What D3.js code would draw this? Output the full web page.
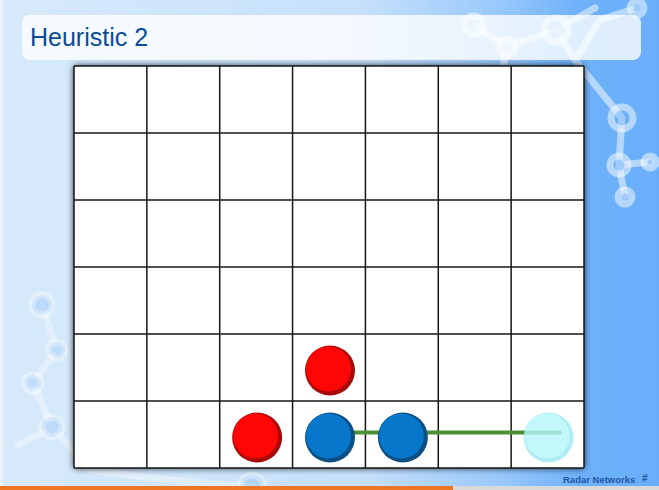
<!DOCTYPE html>
<html>
<head>
  <meta charset="utf-8">
  <script src="https://d3js.org/d3.v7.min.js"></script>
  <style>
    html, body { margin: 0; padding: 0; overflow: hidden; }
    body { background: #d6e9fb; }
    text { font-family: "Liberation Sans", Arial, sans-serif; }
  </style>
</head>
<body>
<script>
  // board
  var columns = [1, 2, 3, 4, 5, 6, 7];
  var rows = [1, 2, 3, 4, 5, 6];           // counted from the bottom

  // pieces on the board
  var redCols = [3, 4],  redRows = [1, 2];
  var blueCols = [4, 5], blueRows = [1, 1];
  var hintCols = [7],    hintRows = [1];   // faded candidate move

  // the heuristic line
  var lineCols = [4, 7], lineRow = 1;

  var title = "Heuristic 2";
  var footer = "Radar Networks";

  var width = 659, height = 490;

  var svg = d3.select("body").append("svg")
      .attr("width", width)
      .attr("height", height);

  var defs = svg.append("defs");

  var bg = defs.append("linearGradient").attr("id", "bg")
      .attr("x1", 0).attr("x2", 1).attr("y1", 0).attr("y2", 0);
  bg.append("stop").attr("offset", "0").attr("stop-color", "#d7eafb");
  bg.append("stop").attr("offset", "0.55").attr("stop-color", "#c6e0fb");
  bg.append("stop").attr("offset", "0.76").attr("stop-color", "#98c8fb");
  bg.append("stop").attr("offset", "0.88").attr("stop-color", "#6eb1fa");
  bg.append("stop").attr("offset", "1").attr("stop-color", "#6aaefa");

  var shadow = defs.append("filter").attr("id", "shadow")
      .attr("x", "-5%").attr("y", "-5%").attr("width", "110%").attr("height", "110%");
  shadow.append("feGaussianBlur").attr("in", "SourceAlpha").attr("stdDeviation", 3.5);
  shadow.append("feComponentTransfer").append("feFuncA").attr("type", "linear").attr("slope", 0.9);
  var merge = shadow.append("feMerge");
  merge.append("feMergeNode");
  merge.append("feMergeNode").attr("in", "SourceGraphic");

  /* background */
  svg.append("rect").attr("width", width).attr("height", height).attr("fill", "url(#bg)");
  svg.append("rect").attr("width", 3).attr("height", height).attr("fill", "#eef3f8");

  // molecule decoration
  var deco = svg.append("g")
      .attr("fill", "none")
      .attr("stroke", "#ffffff")
      .attr("stroke-linecap", "round")
      .attr("stroke-width", 7);
  deco.append("path").attr("stroke-opacity", 0.5).attr("d",
      "M474,25 L507,47 L556,30 L595,8 M507,47 L500,85 M556,30 L575,60 L622,118 L619,165 L650,162 M619,165 L625,197 M575,60 L600,20 L637,8");
  deco.append("path").attr("stroke-opacity", 0.35).attr("d",
      "M42,305 L57,350 L33,383 L52,427 L18,445 M52,427 L90,470 L150,478 L252,487");
  var nodes = [[474,25,9],[507,47,8],[556,30,12],[622,118,11],[619,165,9],[650,162,6],[625,197,7],[637,8,7],
               [42,305,10],[57,350,8],[33,383,8],[52,427,10],[252,487,12]];
  deco.selectAll("circle").data(nodes).join("circle")
      .attr("cx", function(d) { return d[0]; })
      .attr("cy", function(d) { return d[1]; })
      .attr("r", function(d) { return d[2]; })
      .attr("stroke-opacity", function(d) { return d[0] < 300 ? 0.35 : 0.5; })
      .attr("fill", "#6caffa").attr("fill-opacity", 0.3);

  /* title box */
  svg.append("rect")
      .attr("x", 22).attr("y", 15).attr("width", 619).attr("height", 45)
      .attr("rx", 8)
      .attr("fill", "#ffffff").attr("fill-opacity", 0.78);
  svg.append("text")
      .attr("x", 30).attr("y", 46)
      .attr("font-size", 25)
      .attr("fill", "#0b4b98")
      .text(title);

  /* board */
  var x = d3.scaleBand().domain(columns).range([74, 584]);
  var y = d3.scaleBand().domain(rows.slice().reverse()).range([66, 468]);
  var bw = x.bandwidth(), bh = y.bandwidth();

  var board = svg.append("g");
  board.append("rect")
      .attr("x", 74).attr("y", 66).attr("width", 510).attr("height", 402)
      .attr("fill", "#ffffff")
      .attr("filter", "url(#shadow)");

  board.selectAll("line.v").data(columns.concat([8])).join("line")
      .attr("class", "v")
      .attr("x1", function(d) { return d <= 7 ? x(d) : 584; })
      .attr("x2", function(d) { return d <= 7 ? x(d) : 584; })
      .attr("y1", 66).attr("y2", 468)
      .attr("stroke", "#151515").attr("stroke-width", 1.5);
  board.selectAll("line.h").data(rows.concat([0])).join("line")
      .attr("class", "h")
      .attr("y1", function(d) { return d >= 1 ? y(d) : 468; })
      .attr("y2", function(d) { return d >= 1 ? y(d) : 468; })
      .attr("x1", 74).attr("x2", 584)
      .attr("stroke", "#151515").attr("stroke-width", 1.5);

  function cx(c) { return x(c) + bw / 2 + 1; }
  function cy(r) { return y(r) + bh / 2 + 3; }

  // heuristic line
  board.append("line")
      .attr("x1", cx(lineCols[0])).attr("x2", cx(lineCols[1]) + 13)
      .attr("y1", cy(lineRow) - 5).attr("y2", cy(lineRow) - 5)
      .attr("stroke", "#4c8f36").attr("stroke-width", 4);

  function pieces(cols, rws, rim, face, opacity) {
    var data = cols.map(function(c, i) { return {c: c, r: rws[i]}; });
    var g = board.append("g").attr("opacity", opacity);
    g.selectAll("circle.rim").data(data).join("circle")
        .attr("class", "rim")
        .attr("cx", function(d) { return cx(d.c); })
        .attr("cy", function(d) { return cy(d.r); })
        .attr("r", 25)
        .attr("fill", rim);
    g.selectAll("circle.face").data(data).join("circle")
        .attr("class", "face")
        .attr("cx", function(d) { return cx(d.c) - 1.5; })
        .attr("cy", function(d) { return cy(d.r) - 1.5; })
        .attr("r", 22.5)
        .attr("fill", face);
  }

  pieces(redCols, redRows, "#a80a0a", "#ff0606", 1);
  pieces(blueCols, blueRows, "#0c4f82", "#0777cb", 1);
  pieces(hintCols, hintRows, "#9ee9f3", "#b3f6fb", 0.8);

  /* footer */
  svg.append("rect").attr("x", 0).attr("y", 486).attr("width", 453).attr("height", 4).attr("fill", "#f07522");
  svg.append("rect").attr("x", 453).attr("y", 486).attr("width", 206).attr("height", 4).attr("fill", "#d9d9d9");
  svg.append("text")
      .attr("x", 563).attr("y", 483)
      .attr("font-size", 9.5).attr("font-weight", "bold")
      .attr("fill", "#1f57a3")
      .text(footer);
  svg.append("text")
      .attr("x", 642).attr("y", 482)
      .attr("font-size", 10).attr("font-weight", "bold")
      .attr("fill", "#1f57a3")
      .text("#");
</script>
</body>
</html>
